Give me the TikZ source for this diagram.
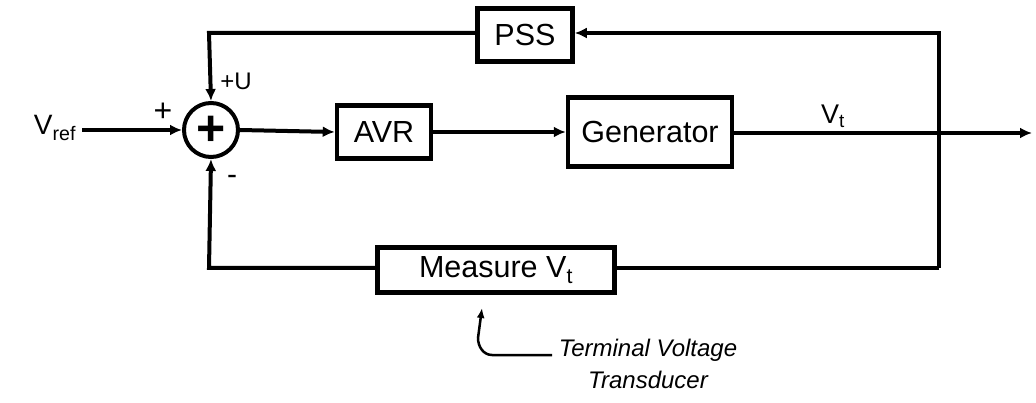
\documentclass[tikz,border=0pt]{standalone}
\usepackage{fontspec}
\setmainfont{Liberation Sans}
\usetikzlibrary{arrows.meta,calc}
\begin{document}
\begin{tikzpicture}[x=1pt,y=-1pt,
  blk/.style={draw,line width=4.5pt,inner sep=0pt,font=\fontsize{30.5}{30.5}\selectfont},
  wire/.style={line width=4pt},
  arr/.style={wire,-{Latex[length=12pt,width=11pt]}},
  lbl/.style={inner sep=0pt,font=\fontsize{24}{24}\selectfont}]
\useasboundingbox (0,0) rectangle (1036,403);
% blocks
\node[draw,circle,line width=4pt,minimum size=54pt,inner sep=0pt] (sum) at (211,130) {};
\node[inner sep=0pt] (plus) at (211,131) {\fontsize{50}{50}\selectfont\bfseries +};
\node[blk,minimum width=95pt,minimum height=53pt] (pss) at (525,35) {PSS};
\node[blk,minimum width=94pt,minimum height=53pt] (avr) at (384,132) {AVR};
\node[blk,minimum width=164pt,minimum height=69pt] (gen) at (650,132) {Generator};
\node[blk,minimum width=237pt,minimum height=45pt] (meas) at (496,270) {Measure V\textsubscript{t}};
% labels
\node[inner sep=0pt,font=\fontsize{28}{28}\selectfont] (vref) at (55,128) {V\textsubscript{ref}};
\node[lbl,font=\fontsize{32}{32}\selectfont] (lp) at (163,112) {+};
\node[lbl] (lu) at (236,81) {+U};
\node[lbl,font=\fontsize{30}{30}\selectfont] (lm) at (232,180) {-};
\node[inner sep=0pt,font=\fontsize{27}{27}\selectfont] (vt) at (833,116) {V\textsubscript{t}};
\node[inner sep=0pt,align=center,font=\fontsize{24}{32}\selectfont\itshape] (term) at (648,364) {Terminal Voltage\\Transducer};
% coordinates
\coordinate (out) at (1032,133);
\coordinate (tr) at (939,33);
\coordinate (br) at (939,268);
\coordinate (tl) at (209,33);
\coordinate (bl) at (209,268);
\coordinate (tip) at (482,308);
\coordinate (tail) at (552,355);
% connectors
\draw[arr] (vref.east) ++(6,2) -- (sum.west);
\draw[arr] (sum.east) -- (avr.west);
\draw[arr] (avr.east) -- (gen.west |- avr.east);
\draw[arr] (gen.east |- out) -- (out);
\draw[arr] (br) -- (tr) -- (pss.east |- tr);
\draw[arr] (pss.west |- tl) -- (tl) -- (sum.north);
\draw[wire] (br) -- (meas.east |- br);
\draw[arr] (meas.west |- bl) -- (bl) -- (sum.south);
\draw[line width=2.5pt,-{Latex[length=10pt,width=8pt]}] (tail) -- ($(tip)+(10,47)$) to[out=180,in=270] ($(tip)+(-4,30)$) -- (tip);
\end{tikzpicture}
\end{document}
